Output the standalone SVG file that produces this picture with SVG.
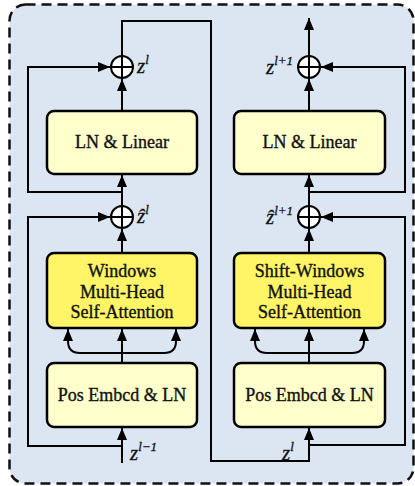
<svg xmlns="http://www.w3.org/2000/svg" width="415" height="486" viewBox="0 0 415 486">
  <style>
    .frame { fill: #dce6f2; stroke: #111; stroke-width: 2.5; stroke-dasharray: 10 6; }
    .box { stroke: #000; stroke-width: 2.5; }
    .light { fill: #ffffcc; }
    .bright { fill: #fff566; }
    .lbl { font-family: "Liberation Serif", "Times New Roman", serif; font-size: 18px; fill: #111; stroke: #111; stroke-width: 0.35; text-anchor: middle; }
    .var { font-family: "Liberation Serif", "Times New Roman", serif; font-style: italic; fill: #111; stroke: #111; stroke-width: 0.3; }
    .z { font-size: 21px; }
    .sup { font-size: 13px; }
    .wire { fill: none; stroke: #000; stroke-width: 2; }
    .sum { fill: #fff; stroke: #000; stroke-width: 2; }
  </style>
  <defs>
    <marker id="tip" viewBox="0 0 12 10" refX="12" refY="5" markerWidth="12" markerHeight="10" markerUnits="userSpaceOnUse" orient="auto">
      <path d="M0,0 L12,5 L0,10 Z" fill="#000"/>
    </marker>
  </defs>

  <!-- outer block outline -->
  <rect class="frame" x="9.5" y="4.5" width="404" height="479" rx="16"/>

  <!-- connectors -->
  <g id="connectors">
    <!-- left block -->
    <path class="wire" d="M122,463 V428" marker-end="url(#tip)"/>
    <path class="wire" d="M122,363 V329" marker-end="url(#tip)"/>
    <path class="wire" d="M122,353 H80 Q68,353 68,341 V329" marker-end="url(#tip)"/>
    <path class="wire" d="M122,353 H164 Q176,353 176,341 V329" marker-end="url(#tip)"/>
    <path class="wire" d="M122,253 V229" marker-end="url(#tip)"/>
    <path class="wire" d="M122,446 H28 V217 H110" marker-end="url(#tip)"/>
    <path class="wire" d="M122,206 V175" marker-end="url(#tip)"/>
    <path class="wire" d="M122,192 H28 V67 H110" marker-end="url(#tip)"/>
    <path class="wire" d="M122,111 V79" marker-end="url(#tip)"/>
    <!-- left output feeds right block input -->
    <path class="wire" d="M122,56 V21 H211 V461 H309 V428" marker-end="url(#tip)"/>

    <!-- right block -->
    <path class="wire" d="M309,363 V329" marker-end="url(#tip)"/>
    <path class="wire" d="M309,353 H267 Q255,353 255,341 V329" marker-end="url(#tip)"/>
    <path class="wire" d="M309,353 H352 Q364,353 364,341 V329" marker-end="url(#tip)"/>
    <path class="wire" d="M309,253 V229" marker-end="url(#tip)"/>
    <path class="wire" d="M309,445 H405 V217 H321" marker-end="url(#tip)"/>
    <path class="wire" d="M309,206 V175" marker-end="url(#tip)"/>
    <path class="wire" d="M309,192 H405 V67 H321" marker-end="url(#tip)"/>
    <path class="wire" d="M309,111 V79" marker-end="url(#tip)"/>
    <path class="wire" d="M309,56 V18" marker-end="url(#tip)"/>
  </g>

  <!-- left block nodes -->
  <g id="pos-embed-left">
    <rect class="box light" x="47" y="363" width="150" height="64" rx="7"/>
    <text class="lbl" x="122" y="401">Pos Embcd &amp; LN</text>
  </g>
  <g id="wmsa">
    <rect class="box bright" x="47" y="253" width="150" height="75" rx="7"/>
    <text class="lbl" x="122" y="277">Windows</text>
    <text class="lbl" x="122" y="298">Multi-Head</text>
    <text class="lbl" x="122" y="318">Self-Attention</text>
  </g>
  <g id="sum-left-1">
    <circle class="sum" cx="122" cy="217" r="11"/>
    <path class="wire" d="M111,217 H133 M122,206 V228"/>
  </g>
  <g id="ln-linear-left">
    <rect class="box light" x="47" y="111" width="150" height="63" rx="7"/>
    <text class="lbl" x="122" y="148">LN &amp; Linear</text>
  </g>
  <g id="sum-left-2">
    <circle class="sum" cx="122" cy="67" r="11"/>
    <path class="wire" d="M111,67 H133 M122,56 V78"/>
  </g>

  <!-- right block nodes -->
  <g id="pos-embed-right">
    <rect class="box light" x="234" y="363" width="151" height="64" rx="7"/>
    <text class="lbl" x="309.5" y="401">Pos Embcd &amp; LN</text>
  </g>
  <g id="swmsa">
    <rect class="box bright" x="234" y="253" width="151" height="75" rx="7"/>
    <text class="lbl" x="309.5" y="277">Shift-Windows</text>
    <text class="lbl" x="309.5" y="298">Multi-Head</text>
    <text class="lbl" x="309.5" y="318">Self-Attention</text>
  </g>
  <g id="sum-right-1">
    <circle class="sum" cx="309" cy="217" r="11"/>
    <path class="wire" d="M298,217 H320 M309,206 V228"/>
  </g>
  <g id="ln-linear-right">
    <rect class="box light" x="234" y="111" width="151" height="63" rx="7"/>
    <text class="lbl" x="309.5" y="148">LN &amp; Linear</text>
  </g>
  <g id="sum-right-2">
    <circle class="sum" cx="309" cy="67" r="11"/>
    <path class="wire" d="M298,67 H320 M309,56 V78"/>
  </g>

  <!-- variable labels -->
  <g id="labels">
    <text class="var" x="137" y="73"><tspan class="z">z</tspan><tspan class="sup" dy="-9">l</tspan></text>
    <text class="var" x="137" y="223"><tspan class="z">ẑ</tspan><tspan class="sup" dy="-9">l</tspan></text>
    <text class="var" x="130" y="460"><tspan class="z">z</tspan><tspan class="sup" dy="-9">l−1</tspan></text>
    <text class="var" x="266" y="74"><tspan class="z">z</tspan><tspan class="sup" dy="-9">l+1</tspan></text>
    <text class="var" x="266" y="224"><tspan class="z">ẑ</tspan><tspan class="sup" dy="-9">l+1</tspan></text>
    <text class="var" x="282" y="460"><tspan class="z">z</tspan><tspan class="sup" dy="-9">l</tspan></text>
  </g>
</svg>
